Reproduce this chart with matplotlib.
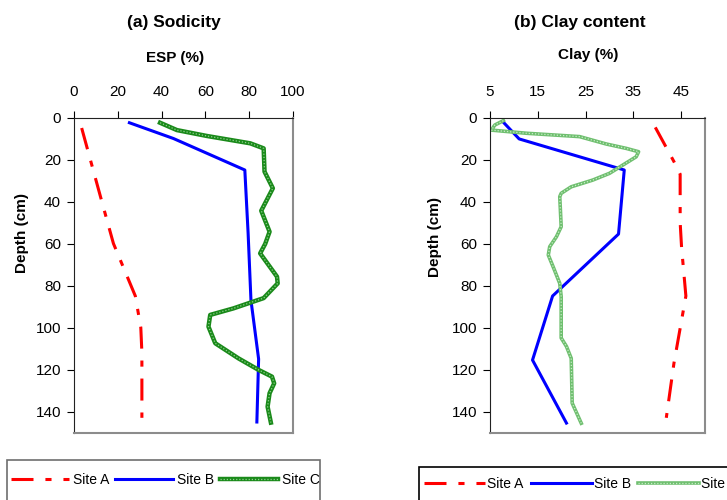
import matplotlib
matplotlib.use("Agg")
import matplotlib.pyplot as plt
from matplotlib.patches import Rectangle

plt.rcParams["font.family"] = ["Liberation Sans", "DejaVu Sans"]

# Panel (a) ESP (%) by depth (cm)
esp_a_val = [3.5, 12.7, 18, 28, 30.5, 31, 31]
esp_a_dep = [5, 40, 60, 85, 100, 112, 143]
esp_b_val = [25.3, 45.4, 78, 79.5, 80.8, 84.3, 83.5]
esp_b_dep = [2.5, 10, 25, 55, 87, 115, 145]
esp_c_val = [39.3, 47, 60.7, 80.5, 86.6, 87, 90.8, 85.5, 89.3, 87.3, 85, 92.7, 93,
             86.6, 72.8, 62.2, 61.4, 64.5, 75.1, 84.3, 90.4, 91.4, 89.3, 88.4, 89.9]
esp_c_dep = [2.5, 6, 8.8, 12.3, 14.7, 25.8, 33.7, 44.4, 54.4, 60.2, 64.7, 75.8, 79,
             86, 90.9, 94, 99.6, 107.5, 114.7, 120.2, 123.4, 126.6, 131.3, 137.7, 145.3]

# Panel (b) Clay (%) by depth (cm)
clay_a_val = [39.6, 43.5, 44.8, 44.8, 45.1, 46, 43.5, 41.9]
clay_a_dep = [4.7, 21, 27, 50, 62, 85, 117, 143]
clay_b_val = [7.9, 11.1, 33.1, 31.9, 18.1, 13.9, 21.0]
clay_b_dep = [2.5, 10.2, 25, 55.5, 85, 115.5, 145.5]
clay_c_val = [7.8, 6.0, 5.3, 12.6, 23.75, 29.3, 33.5, 36.1, 35.6, 30, 26.5, 22, 19.9,
              19.6, 19.9, 18.9, 17.5, 17.2, 18.2, 19.6, 19.9, 19.9, 21, 22, 22.2, 24.1]
clay_c_dep = [1.5, 3.6, 6, 7.5, 9.1, 12.6, 14.7, 16.3, 18.7, 26.6, 29.8, 33, 36.1,
              37.7, 52, 56.8, 61.5, 65.5, 71, 79, 85.3, 105, 109, 114.7, 136, 145.6]

site_labels = ["Site A", "Site B", "Site C"]
depth_ticks = [0, 20, 40, 60, 80, 100, 120, 140]

W, H = 727, 500
fig = plt.figure(figsize=(W / 100, H / 100), dpi=100)

red_ls = (0, (7.2, 3.9, 2, 3.9))


def setup_axis(ax, xlim, xticks):
    ax.set_xlim(*xlim)
    ax.set_ylim(150, 0)
    ax.set_xticks(xticks)
    ax.set_yticks(depth_ticks)
    ax.xaxis.tick_top()
    ax.tick_params(axis="x", direction="out", length=5, pad=8, labelsize=11)
    ax.tick_params(axis="y", direction="out", length=5, pad=4.3, labelsize=11)
    ax.spines["left"].set_color("#222222")
    ax.spines["top"].set_color("#222222")
    ax.spines["right"].set_color("#8c8c8c")
    ax.spines["bottom"].set_color("#8c8c8c")
    ax.spines["right"].set_linewidth(1.5)
    ax.spines["bottom"].set_linewidth(1.5)


def draw(ax, a_val, a_dep, b_val, b_dep, c_val, c_dep, c_base, c_top, c_lw):
    la, = ax.plot(a_val, a_dep, color="#ff0000", lw=2.2, ls=red_ls,
                  dash_capstyle="butt")
    lb, = ax.plot(b_val, b_dep, color="#0000ff", lw=2.2)
    lc1, = ax.plot(c_val, c_dep, color=c_base, lw=c_lw, solid_joinstyle="round")
    lc2, = ax.plot(c_val, c_dep, color=c_top, lw=0.9, ls=(0, (1, 1.5)))
    return [la, lb, (lc1, lc2)]


# (a) Sodicity
ax1 = fig.add_axes([74 / W, 1 - 432.5 / H, 219 / W, 315 / H])
setup_axis(ax1, (0, 100), [0, 20, 40, 60, 80, 100])
h1 = draw(ax1, esp_a_val, esp_a_dep, esp_b_val, esp_b_dep, esp_c_val, esp_c_dep,
          "#1a8a1a", "#8fd08f", 3.2)

# (b) Clay content
ax2 = fig.add_axes([490 / W, 1 - 432.5 / H, 215 / W, 315 / H])
setup_axis(ax2, (5, 50), [5, 15, 25, 35, 45])
h2 = draw(ax2, clay_a_val, clay_a_dep, clay_b_val, clay_b_dep, clay_c_val, clay_c_dep,
          "#6fbf6f", "#c8ecc8", 2.6)

# titles and axis labels
fig.text(174 / W, 1 - 23 / H, "(a) Sodicity", ha="center", va="center",
         fontsize=12.5, fontweight="bold")
fig.text(175 / W, 1 - 58 / H, "ESP (%)", ha="center", va="center",
         fontsize=11, fontweight="bold")
fig.text(21.7 / W, 1 - 233 / H, "Depth (cm)", ha="center", va="center",
         rotation=90, fontsize=11, fontweight="bold")

fig.text(580 / W, 1 - 23 / H, "(b) Clay content", ha="center", va="center",
         fontsize=12.5, fontweight="bold")
fig.text(588 / W, 1 - 55 / H, "Clay (%)", ha="center", va="center",
         fontsize=11, fontweight="bold")
fig.text(435 / W, 1 - 237 / H, "Depth (cm)", ha="center", va="center",
         rotation=90, fontsize=11, fontweight="bold")

# legend frames (cut by the figure edge, as in the source)
fig.patches.append(Rectangle((6.7 / W, -0.1), (320 - 6.7) / W, 0.1 + 1 - 460 / H,
                             transform=fig.transFigure, fill=False,
                             edgecolor="#6e6e6e", lw=1.2))
fig.patches.append(Rectangle((419 / W, -0.1), 0.5, 0.1 + 1 - 467 / H,
                             transform=fig.transFigure, fill=False,
                             edgecolor="black", lw=1.2))

fig.legend(h1, site_labels, loc="center left", bbox_to_anchor=(11 / W, 1 - 480 / H),
           ncol=3, frameon=False, fontsize=10, handlelength=4.17,
           handletextpad=0.29, columnspacing=0.43, borderpad=0, borderaxespad=0)
fig.legend(h2, site_labels, loc="center left", bbox_to_anchor=(424 / W, 1 - 484 / H),
           ncol=3, frameon=False, fontsize=10, handlelength=4.4,
           handletextpad=0.15, columnspacing=0.5, borderpad=0, borderaxespad=0)

fig.savefig("out.png", dpi=100)
